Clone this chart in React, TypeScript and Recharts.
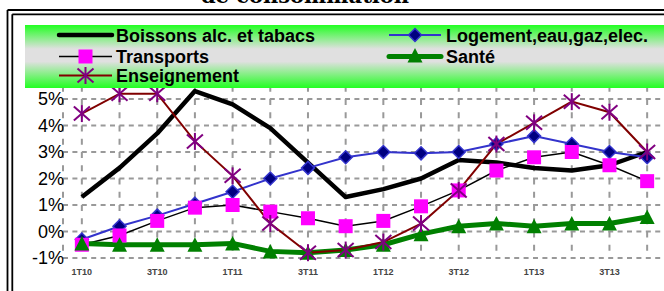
import React from 'react';
import { LineChart, Line, XAxis, YAxis, CartesianGrid } from 'recharts';

const quarters = ['1T10', '2T10', '3T10', '4T10', '1T11', '2T11', '3T11', '4T11', '1T12', '2T12', '3T12', '4T12', '1T13', '2T13', '3T13', '4T13'];
const boissons = [1.3, 2.4, 3.7, 5.3, 4.8, 3.9, 2.6, 1.3, 1.6, 2.0, 2.7, 2.6, 2.4, 2.3, 2.5, 3.0];
const logement = [-0.3, 0.2, 0.6, 1.05, 1.5, 2.0, 2.4, 2.8, 3.0, 2.95, 3.0, 3.3, 3.6, 3.3, 3.0, 2.8];
const transports = [-0.5, -0.15, 0.4, 0.9, 1.0, 0.75, 0.5, 0.2, 0.4, 0.95, 1.55, 2.3, 2.8, 3.0, 2.5, 1.9];
const sante = [-0.45, -0.5, -0.5, -0.5, -0.45, -0.75, -0.8, -0.7, -0.5, -0.1, 0.2, 0.3, 0.2, 0.3, 0.3, 0.55];
const enseignement = [4.45, 5.2, 5.2, 3.4, 2.1, 0.3, -0.8, -0.7, -0.4, 0.3, 1.55, 3.3, 4.1, 4.9, 4.5, 3.0];
const yTicks = [-1, 0, 1, 2, 3, 4, 5];

const data = quarters.map((q, i) => ({
  q,
  boissons: boissons[i],
  logement: logement[i],
  transports: transports[i],
  sante: sante[i],
  enseignement: enseignement[i],
}));

const square = (p: any) =>
  p.cx == null ? null : (
    <rect key={`sq-${p.index}`} x={p.cx - 7} y={p.cy - 7} width={14} height={14} fill="#ff00ff" />
  );

const diamond = (p: any) =>
  p.cx == null ? null : (
    <polygon
      key={`di-${p.index}`}
      points={`${p.cx},${p.cy - 6.5} ${p.cx + 6.5},${p.cy} ${p.cx},${p.cy + 6.5} ${p.cx - 6.5},${p.cy}`}
      fill="#000080"
      stroke="#3333cc"
      strokeWidth={1.5}
    />
  );

const triangle = (p: any) =>
  p.cx == null ? null : (
    <polygon
      key={`tr-${p.index}`}
      points={`${p.cx},${p.cy - 7.5} ${p.cx + 7.5},${p.cy + 7} ${p.cx - 7.5},${p.cy + 7}`}
      fill="#008000"
    />
  );

const asterisk = (p: any) =>
  p.cx == null ? null : (
    <g key={`as-${p.index}`} stroke="#800080" strokeWidth={2}>
      <line x1={p.cx} y1={p.cy - 8.5} x2={p.cx} y2={p.cy + 8.5} />
      <line x1={p.cx - 8} y1={p.cy - 7} x2={p.cx + 8} y2={p.cy + 7} />
      <line x1={p.cx - 8} y1={p.cy + 7} x2={p.cx + 8} y2={p.cy - 7} />
    </g>
  );

function Legend() {
  const font = { fontFamily: 'Liberation Sans, Arial, sans-serif', fontWeight: 'bold' as const, fontSize: 18 };
  const rows = [10, 31.5, 50.5];
  return (
    <div
      style={{
        position: 'absolute',
        left: 25,
        top: 25,
        width: 660,
        height: 63,
        background: 'linear-gradient(to bottom, #22ff22 0%, #e0e0e0 38%, #e0e0e0 58%, #22ff22 100%)',
      }}
    >
      <svg width={660} height={63} style={{ position: 'absolute', left: 0, top: 0 }}>
        <line x1={34} y1={rows[0]} x2={87} y2={rows[0]} stroke="#000" strokeWidth={4.5} strokeLinecap="round" />
        <text x={91} y={rows[0] + 6.5} {...font}>Boissons alc. et tabacs</text>

        <line x1={34} y1={rows[1]} x2={87} y2={rows[1]} stroke="#000" strokeWidth={1.5} />
        {square({ cx: 60.5, cy: rows[1], index: 'l' })}
        <text x={91} y={rows[1] + 6.5} {...font}>Transports</text>

        <line x1={34} y1={rows[2]} x2={87} y2={rows[2]} stroke="#800000" strokeWidth={2} />
        {asterisk({ cx: 60.5, cy: rows[2], index: 'l' })}
        <text x={91} y={rows[2] + 6.5} {...font}>Enseignement</text>

        <line x1={364} y1={rows[0]} x2={416} y2={rows[0]} stroke="#3333cc" strokeWidth={2} />
        {diamond({ cx: 390, cy: rows[0], index: 'l' })}
        <text x={421} y={rows[0] + 6.5} {...font}>Logement,eau,gaz,elec.</text>

        <line x1={364} y1={rows[1]} x2={416} y2={rows[1]} stroke="#008000" strokeWidth={5} strokeLinecap="round" />
        {triangle({ cx: 390, cy: rows[1] - 1, index: 'l' })}
        <text x={421} y={rows[1] + 6.5} {...font}>Santé</text>
      </svg>
    </div>
  );
}

export default function App() {
  return (
    <div style={{ position: 'absolute', left: 0, top: 0, width: 664, height: 291, overflow: 'hidden', background: '#fff' }}>
      <svg width={664} height={291} style={{ position: 'absolute', left: 0, top: 0 }}>
        <text
          x={305}
          y={3}
          textAnchor="middle"
          fontFamily="DejaVu Serif, serif"
          fontWeight="bold"
          fontSize={21}
        >
          de consommation
        </text>
        <line x1={7.5} y1={10} x2={664} y2={10} stroke="#000" strokeWidth={1.8} />
        <line x1={12.3} y1={14.3} x2={664} y2={14.3} stroke="#000" strokeWidth={1.8} />
        <line x1={7.5} y1={10} x2={7.5} y2={291} stroke="#000" strokeWidth={1.8} />
        <line x1={12.3} y1={14.3} x2={12.3} y2={291} stroke="#000" strokeWidth={1.8} />
      </svg>
      <div style={{ position: 'absolute', left: 0, top: 0 }}>
        <LineChart width={670} height={291} data={data} margin={{ top: 72.5, right: 4, bottom: 13, left: 8 }}>
          <CartesianGrid horizontal={true} vertical={false} stroke="#999" strokeWidth={2} strokeDasharray="5 4.4" />
          <CartesianGrid horizontal={false} vertical={true} stroke="#999" strokeWidth={2} strokeDasharray="6 7.25" />
          <XAxis
            dataKey="q"
            padding={{ left: 18.85, right: 18.85 }}
            axisLine={false}
            tickLine={false}
            tickSize={0}
            tickMargin={11}
            interval={0}
            height={20}
            tickFormatter={(v: string, i: number) => (i % 2 === 0 ? v : '')}
            tick={{ fontSize: 9, fontWeight: 'bold', fill: '#444', fontFamily: 'Liberation Sans, Arial, sans-serif' }}
          />
          <YAxis
            type="number"
            domain={[-1, 6]}
            ticks={yTicks}
            width={55}
            axisLine={false}
            tickLine={false}
            tickSize={0}
            tickMargin={-1}
            tickFormatter={(v: number) => `${v}%`}
            tick={{ fontSize: 18, fill: '#000', fontFamily: 'Liberation Sans, Arial, sans-serif' }}
          />
          <Line dataKey="boissons" stroke="#000" strokeWidth={4.5} strokeLinejoin="round" dot={false} activeDot={false} isAnimationActive={false} />
          <Line dataKey="logement" stroke="#3333cc" strokeWidth={2} dot={diamond} activeDot={false} isAnimationActive={false} />
          <Line dataKey="transports" stroke="#000" strokeWidth={1.5} dot={square} activeDot={false} isAnimationActive={false} />
          <Line dataKey="sante" stroke="#008000" strokeWidth={5} strokeLinejoin="round" dot={triangle} activeDot={false} isAnimationActive={false} />
          <Line dataKey="enseignement" stroke="#800000" strokeWidth={2} dot={asterisk} activeDot={false} isAnimationActive={false} />
        </LineChart>
      </div>
      <Legend />
    </div>
  );
}
